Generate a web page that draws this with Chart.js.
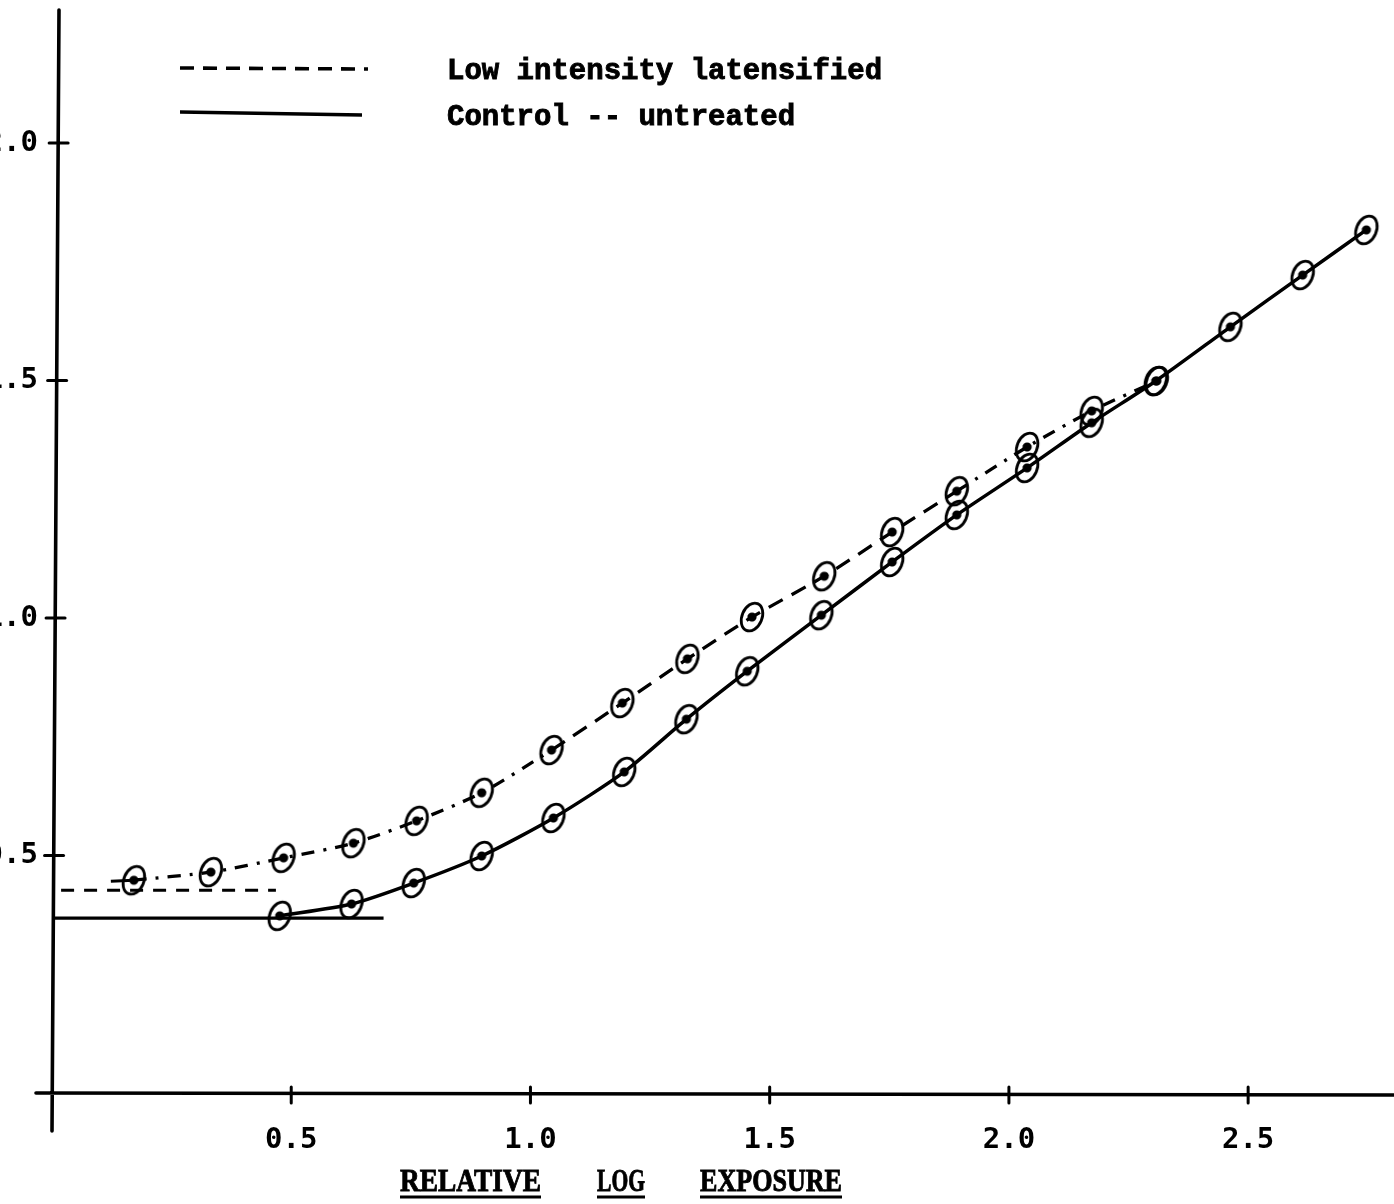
<!DOCTYPE html>
<html>
<head>
<meta charset="utf-8">
<script src="https://cdn.jsdelivr.net/npm/chart.js@4.4.1/dist/chart.umd.min.js"></script>
<style>
  html, body { margin: 0; padding: 0; background: #fff; overflow: hidden; }
  #wrap { position: absolute; left: -40px; top: 0; width: 1434px; height: 1204px; }
</style>
</head>
<body>
<div id="wrap"><canvas id="curves" width="1434" height="1204"></canvas></div>
<script>
// tick positions on both axes
const xTicks = [0.5, 1.0, 1.5, 2.0, 2.5];
const yTicks = [0.5, 1.0, 1.5, 2.0];

// low intensity latensified (dashed curve)
const latX = [0.171, 0.332, 0.484, 0.630, 0.762, 0.898, 1.044, 1.192, 1.328, 1.463, 1.614, 1.756, 1.891, 2.038, 2.173, 2.309];
const latY = [0.448, 0.465, 0.495, 0.526, 0.573, 0.632, 0.722, 0.821, 0.914, 1.002, 1.088, 1.181, 1.267, 1.360, 1.436, 1.499];

// control, untreated (solid curve)
const ctrlX = [0.476, 0.626, 0.756, 0.898, 1.048, 1.196, 1.326, 1.453, 1.608, 1.756, 1.891, 2.038, 2.173, 2.307, 2.463, 2.614, 2.747];
const ctrlY = [0.373, 0.398, 0.442, 0.499, 0.579, 0.676, 0.787, 0.888, 1.006, 1.118, 1.217, 1.316, 1.411, 1.499, 1.613, 1.722, 1.817];

// fog levels drawn as flat lines at the toe
const latFogX = [0.019, 0.468];
const latFogY = [0.427, 0.427];
const ctrlFogX = [0.0, 0.693];
const ctrlFogY = [0.368, 0.368];

// short lead-in before the first latensified point
const latLeadX = [0.123, 0.171];
const latLeadY = [0.446, 0.448];

const legendNames = ['Low intensity latensified', 'Control -- untreated'];
const axisWords = ['RELATIVE', 'LOG', 'EXPOSURE'];

const pts = (xs, ys) => xs.map((x, i) => ({ x: x, y: ys[i] }));

// hand-ringed plot point: tilted ellipse with a dot in the middle
function ringDot() {
  const c = document.createElement('canvas');
  c.width = 44; c.height = 44;
  const g = c.getContext('2d');
  g.translate(22, 22);
  g.rotate(0.4);
  g.strokeStyle = '#000';
  g.fillStyle = '#000';
  g.lineWidth = 2.8;
  g.beginPath();
  g.ellipse(0, 0, 10, 14.5, 0, 0, Math.PI * 2);
  g.stroke();
  g.beginPath();
  g.arc(0, 0, 4.6, 0, Math.PI * 2);
  g.fill();
  return c;
}
const ring = ringDot();

const dashDot = [13, 9, 3, 9];
const dashLong = [16, 10];
const tickFont = '"DejaVu Sans Mono", "Liberation Mono", monospace';

// drop the label padding chart.js reserves so the plot box is exact
const noPad = s => { s.paddingTop = 0; s.paddingBottom = 0; s.paddingLeft = 0; s.paddingRight = 0; };

const axesAndText = {
  id: 'axesAndText',
  beforeDatasetsDraw(chart) {
    const { ctx, scales: { x, y } } = chart;
    const x0 = x.getPixelForValue(0);
    const y0 = y.getPixelForValue(0);
    ctx.save();
    ctx.strokeStyle = '#000';
    ctx.lineCap = 'round';
    ctx.lineWidth = 3.6;
    ctx.beginPath();
    ctx.moveTo(x0 + 7, y.top);
    ctx.lineTo(x0, y0 + 38);
    ctx.moveTo(x0 - 16, y0);
    ctx.lineTo(chart.width + 5, y0 + 2);
    ctx.stroke();

    ctx.lineWidth = 3;
    xTicks.forEach(v => {
      const px = x.getPixelForValue(v);
      ctx.beginPath();
      ctx.moveTo(px, y0 - 6);
      ctx.lineTo(px, y0 + 10);
      ctx.stroke();
    });
    yTicks.forEach(v => {
      const py = y.getPixelForValue(v);
      const lean = 7 * (y0 - py) / (y0 - y.top);
      ctx.beginPath();
      ctx.moveTo(x0 + lean - 9, py);
      ctx.lineTo(x0 + lean + 10, py);
      ctx.stroke();
    });
    ctx.restore();
  },
  afterDraw(chart) {
    const { ctx, chartArea: area } = chart;
    ctx.save();
    ctx.fillStyle = '#000';
    ctx.strokeStyle = '#000';

    // legend
    const lx0 = area.left + 128, lx1 = area.left + 310;
    ctx.lineWidth = 3.6;
    ctx.setLineDash([14, 9]);
    ctx.beginPath();
    ctx.moveTo(lx0, 68);
    ctx.lineTo(lx1 + 6, 69);
    ctx.stroke();
    ctx.setLineDash([]);
    ctx.beginPath();
    ctx.moveTo(lx0, 112);
    ctx.lineTo(lx1, 115);
    ctx.stroke();
    ctx.font = 'bold 29px "Liberation Mono", "DejaVu Sans Mono", monospace';
    ctx.textBaseline = 'middle';
    ctx.lineWidth = 0.9;
    legendNames.forEach((t, i) => {
      const ty = i === 0 ? 72 : 118;
      ctx.fillText(t, area.left + 395, ty);
      ctx.strokeText(t, area.left + 395, ty);
    });

    // axis caption, each word underlined
    const wordX = [348, 545, 648];
    const wordW = [141, 48, 142];
    const base = area.bottom + 98;
    ctx.font = 'bold 25px "Liberation Serif", "DejaVu Serif", serif';
    ctx.textBaseline = 'alphabetic';
    axisWords.forEach((w, i) => {
      const left = area.left + wordX[i];
      const sx = wordW[i] / ctx.measureText(w).width;
      ctx.save();
      ctx.translate(left, base);
      ctx.scale(sx, 1.3);
      ctx.lineWidth = 0.7;
      ctx.fillText(w, 0, 0);
      ctx.strokeText(w, 0, 0);
      ctx.restore();
      ctx.lineWidth = 3;
      ctx.beginPath();
      ctx.moveTo(left, base + 6);
      ctx.lineTo(left + wordW[i], base + 6);
      ctx.stroke();
    });
    ctx.restore();
  }
};

new Chart(document.getElementById('curves'), {
  type: 'scatter',
  data: {
    datasets: [
      {
        label: 'latensified fog',
        data: pts(latFogX, latFogY),
        showLine: true,
        borderColor: '#000',
        borderWidth: 3,
        borderDash: [13, 10],
        pointRadius: 0
      },
      {
        label: 'control fog',
        data: pts(ctrlFogX, ctrlFogY),
        showLine: true,
        borderColor: '#000',
        borderWidth: 3.2,
        pointRadius: 0
      },
      {
        label: 'latensified lead',
        data: pts(latLeadX, latLeadY),
        showLine: true,
        borderColor: '#000',
        borderWidth: 3,
        pointRadius: 0
      },
      {
        label: legendNames[0],
        data: pts(latX, latY),
        showLine: true,
        borderColor: '#000',
        borderWidth: 3.3,
        tension: 0.25,
        segment: {
          borderDash: c => (c.p0.parsed.x < 0.9 || c.p0.parsed.x > 1.85) ? dashDot : dashLong
        },
        pointStyle: ring,
        pointRadius: 6
      },
      {
        label: legendNames[1],
        data: pts(ctrlX, ctrlY),
        showLine: true,
        borderColor: '#000',
        borderWidth: 3.5,
        tension: 0.25,
        pointStyle: ring,
        pointRadius: 6
      }
    ]
  },
  options: {
    responsive: false,
    animation: false,
    devicePixelRatio: 1,
    layout: { padding: { left: 0, right: 0, top: 10, bottom: 0 } },
    plugins: { legend: { display: false }, tooltip: { enabled: false } },
    scales: {
      x: {
        type: 'linear',
        min: 0,
        max: 2.785,
        afterBuildTicks: s => { s.ticks = xTicks.map(v => ({ value: v })); },
        afterFit: s => { s.height = 111; noPad(s); },
        grid: { display: false },
        border: { display: false },
        ticks: {
          color: '#000',
          padding: 22,
          maxRotation: 0,
          font: { family: tickFont, size: 29, weight: 'bold' },
          callback: v => v.toFixed(1)
        }
      },
      y: {
        type: 'linear',
        min: 0,
        max: 2.28,
        afterBuildTicks: s => { s.ticks = yTicks.map(v => ({ value: v })); },
        afterFit: s => { s.width = 92; noPad(s); },
        grid: { display: false },
        border: { display: false },
        ticks: {
          color: '#000',
          padding: 6,
          font: { family: tickFont, size: 29, weight: 'bold' },
          callback: v => v.toFixed(1)
        }
      }
    }
  },
  plugins: [axesAndText]
});
</script>
</body>
</html>
